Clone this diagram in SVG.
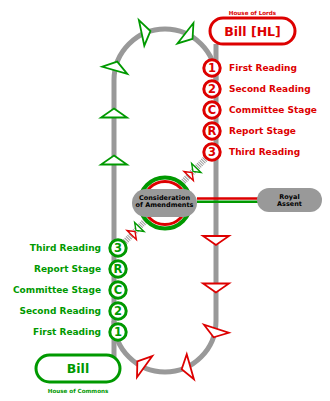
<svg xmlns="http://www.w3.org/2000/svg" width="330" height="401" viewBox="0 0 330 401">
<defs>
<path id="arr" d="M0,-4.5 L13,4.5 L-13,4.5 Z"/>
<path id="sarr" d="M0,0.7 L6.5,5.5 L-6.5,5.5 Z"/>
</defs>
<style>
.track{fill:none;stroke:#999;stroke-width:5}
.diag{fill:none;stroke:#999;stroke-width:6;stroke-dasharray:1 1}
.ag{fill:#fff;stroke:#009900;stroke-width:1.8}
.ar{fill:#fff;stroke:#dd0000;stroke-width:1.8}
.sg{fill:#fff;stroke:#009900;stroke-width:3}
.sr{fill:#fff;stroke:#dd0000;stroke-width:3}
text{font-family:"DejaVu Sans",Verdana,sans-serif;font-weight:bold}
.num{font-size:11.5px;text-anchor:middle}
.lbl{font-size:9px}
.tg{fill:#009900}
.tr{fill:#dd0000}
.pill{fill:#999}
.ptxt{font-size:6.5px;text-anchor:middle;fill:#000}
</style>
<g id="connectors">
<path class="track" d="M114,358 V80 A51,51 0 0 1 216,80"/>
<path class="track" d="M216,44 V321 A51,51 0 0 1 114,321"/>
<path class="diag" d="M212,152 L118,249"/>
<line x1="197" y1="198.5" x2="260" y2="198.5" stroke="#dd0000" stroke-width="2.6"/>
<line x1="197" y1="201.8" x2="260" y2="201.8" stroke="#009900" stroke-width="2.6"/>
<use href="#arr" class="ag" transform="translate(114,113)"/>
<use href="#arr" class="ag" transform="translate(114,160)"/>
<use href="#arr" class="ag" transform="translate(116,66) rotate(16)"/>
<use href="#arr" class="ag" transform="translate(146,32) rotate(78)"/>
<use href="#arr" class="ag" transform="translate(189,36) rotate(128)"/>
<use href="#arr" class="ar" transform="translate(216,240.5) rotate(180)"/>
<use href="#arr" class="ar" transform="translate(216,288) rotate(180)"/>
<use href="#arr" class="ar" transform="translate(215,333) rotate(198)"/>
<use href="#arr" class="ar" transform="translate(186,368) rotate(254)"/>
<use href="#arr" class="ar" transform="translate(141,364) rotate(306)"/>
<use href="#sarr" class="ar" style="stroke-width:1.4" transform="translate(192.5,172) rotate(44)"/>
<use href="#sarr" class="ag" style="stroke-width:1.4" transform="translate(192.5,172) rotate(224)"/>
<use href="#sarr" class="ar" style="stroke-width:1.4" transform="translate(135.5,231) rotate(44)"/>
<use href="#sarr" class="ag" style="stroke-width:1.4" transform="translate(135.5,231) rotate(224)"/>
</g>
<g id="consideration">
<circle cx="165" cy="203" r="25.5" fill="#fff" stroke="#009900" stroke-width="4"/>
<circle cx="165" cy="203" r="21.5" fill="none" stroke="#dd0000" stroke-width="3"/>
<rect class="pill" x="132" y="189" width="65" height="28" rx="14"/>
<text class="ptxt" x="164.5" y="199.5">Consideration</text>
<text class="ptxt" x="164.5" y="206.8">of Amendments</text>
</g>
<g id="royal-assent">
<rect class="pill" x="257" y="188" width="65" height="24" rx="12"/>
<text class="ptxt" x="289.5" y="198.5">Royal</text>
<text class="ptxt" x="289.5" y="206.3">Assent</text>
</g>
<g id="bill-hl">
<rect x="210" y="18" width="85" height="26" rx="13" fill="#fff" stroke="#dd0000" stroke-width="3"/>
<text class="tr" x="252.5" y="35.5" font-size="12.5" text-anchor="middle">Bill [HL]</text>
<text class="tr" x="252.5" y="15.3" font-size="5.6" text-anchor="middle">House of Lords</text>
</g>
<g id="bill">
<rect x="36" y="355" width="84" height="27" rx="13.5" fill="#fff" stroke="#009900" stroke-width="3"/>
<text class="tg" x="78" y="373" font-size="12.5" text-anchor="middle">Bill</text>
<text class="tg" x="78" y="393" font-size="5.6" text-anchor="middle">House of Commons</text>
</g>
<g id="lords-stages">
<g id="hl1"><circle class="sr" cx="212" cy="68" r="8.2"/><text class="num tr" x="212" y="72.2">1</text><text class="lbl tr" x="229" y="71.3">First Reading</text></g>
<g id="hl2"><circle class="sr" cx="212" cy="89" r="8.2"/><text class="num tr" x="212" y="93.2">2</text><text class="lbl tr" x="229" y="92.3">Second Reading</text></g>
<g id="hlC"><circle class="sr" cx="212" cy="110" r="8.2"/><text class="num tr" x="212" y="114.2">C</text><text class="lbl tr" x="229" y="113.3">Committee Stage</text></g>
<g id="hlR"><circle class="sr" cx="212" cy="131" r="8.2"/><text class="num tr" x="212" y="135.2">R</text><text class="lbl tr" x="229" y="134.3">Report Stage</text></g>
<g id="hl3"><circle class="sr" cx="212" cy="152" r="8.2"/><text class="num tr" x="212" y="156.2">3</text><text class="lbl tr" x="229" y="155.3">Third Reading</text></g>
</g>
<g id="commons-stages">
<g id="hc3"><circle class="sg" cx="118" cy="248" r="8.2"/><text class="num tg" x="118" y="252.2">3</text><text class="lbl tg" x="101" y="251.3" text-anchor="end">Third Reading</text></g>
<g id="hcR"><circle class="sg" cx="118" cy="269" r="8.2"/><text class="num tg" x="118" y="273.2">R</text><text class="lbl tg" x="101" y="272.3" text-anchor="end">Report Stage</text></g>
<g id="hcC"><circle class="sg" cx="118" cy="290" r="8.2"/><text class="num tg" x="118" y="294.2">C</text><text class="lbl tg" x="101" y="293.3" text-anchor="end">Committee Stage</text></g>
<g id="hc2"><circle class="sg" cx="118" cy="311" r="8.2"/><text class="num tg" x="118" y="315.2">2</text><text class="lbl tg" x="101" y="314.3" text-anchor="end">Second Reading</text></g>
<g id="hc1"><circle class="sg" cx="118" cy="332" r="8.2"/><text class="num tg" x="118" y="336.2">1</text><text class="lbl tg" x="101" y="335.3" text-anchor="end">First Reading</text></g>
</g>
</svg>
